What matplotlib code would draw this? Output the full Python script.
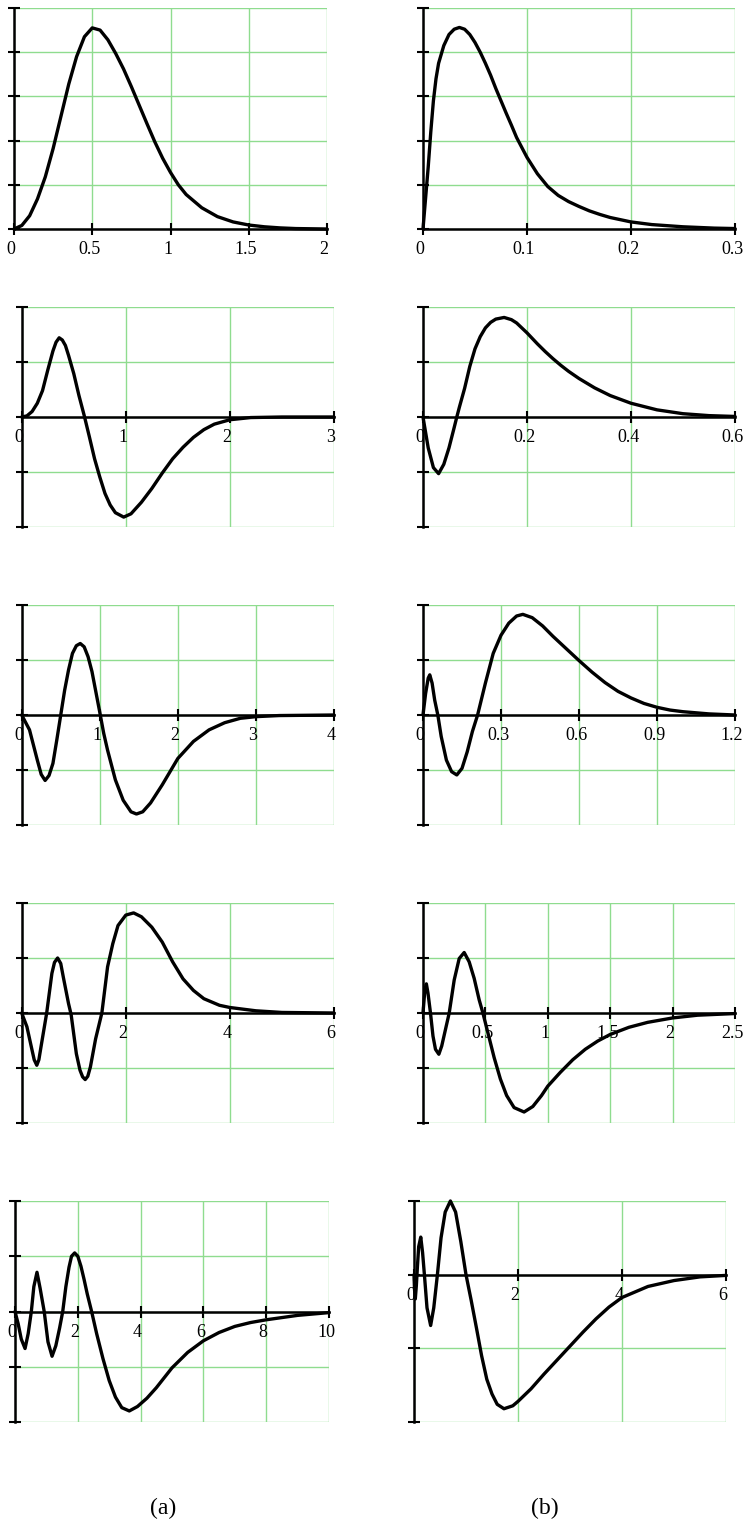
import matplotlib.pyplot as plt
from matplotlib.transforms import ScaledTranslation

plt.rcParams['font.family'] = ['Liberation Serif', 'DejaVu Serif']

# ---- curve readings, column (a) ----
a1_x = [0, 0.05, 0.1, 0.15, 0.2, 0.25, 0.3, 0.35, 0.4, 0.45, 0.5, 0.55, 0.6, 0.65, 0.7,
        0.75, 0.8, 0.85, 0.9, 0.95, 1.0, 1.05, 1.1, 1.2, 1.3, 1.4, 1.5, 1.6, 1.7, 1.8, 2.0]
a1_y = [0, 0.08, 0.3, 0.68, 1.18, 1.82, 2.55, 3.28, 3.9, 4.35, 4.55, 4.5, 4.28, 3.97, 3.62,
        3.22, 2.8, 2.38, 1.97, 1.6, 1.28, 1.0, 0.78, 0.48, 0.28, 0.16, 0.09, 0.05, 0.025, 0.01, 0]

a2_x = [0, 0.05, 0.1, 0.15, 0.2, 0.25, 0.3, 0.33, 0.36, 0.39, 0.42, 0.45, 0.5, 0.55, 0.6, 0.65, 0.7, 0.75,
        0.8, 0.85, 0.9, 0.98, 1.05, 1.15, 1.25, 1.35, 1.45, 1.55, 1.65, 1.75, 1.85, 2.0, 2.2, 2.5, 3.0]
a2_y = [0, 0.02, 0.1, 0.25, 0.48, 0.85, 1.2, 1.36, 1.44, 1.4, 1.3, 1.12, 0.79, 0.39, 0.03, -0.36, -0.76, -1.09,
        -1.39, -1.6, -1.74, -1.82, -1.76, -1.55, -1.3, -1.02, -0.76, -0.55, -0.37, -0.23, -0.13, -0.05, -0.01, 0, 0]

a3_x = [0, 0.1, 0.2, 0.25, 0.3, 0.35, 0.4, 0.45, 0.5, 0.55, 0.6, 0.65, 0.7, 0.75, 0.8, 0.85, 0.9,
        0.95, 1.0, 1.05, 1.1, 1.2, 1.3, 1.4, 1.47, 1.55, 1.65, 1.8, 2.0, 2.2, 2.4, 2.6, 2.8, 3.0, 3.3, 4.0]
a3_y = [0, -0.27, -0.82, -1.08, -1.19, -1.1, -0.88, -0.45, 0, 0.45, 0.82, 1.12, 1.26, 1.3, 1.24, 1.06, 0.79,
        0.42, 0.05, -0.33, -0.64, -1.18, -1.55, -1.76, -1.8, -1.76, -1.6, -1.27, -0.79, -0.48, -0.27, -0.14, -0.06, -0.03, -0.01, 0]

a4_x = [0, 0.1, 0.2, 0.24, 0.29, 0.33, 0.37, 0.48, 0.58, 0.63, 0.69, 0.75, 0.8, 0.9, 0.95, 1.05, 1.12,
        1.17, 1.22, 1.27, 1.32, 1.42, 1.54, 1.65, 1.75, 1.85, 2.0, 2.15, 2.3, 2.5, 2.7, 2.9, 3.1, 3.3,
        3.5, 3.8, 4.0, 4.5, 5.0, 6.0]
a4_y = [0, -0.25, -0.68, -0.85, -0.95, -0.85, -0.62, 0, 0.72, 0.92, 1.0, 0.9, 0.65, 0.17, -0.03, -0.74, -1.04,
        -1.16, -1.21, -1.15, -0.98, -0.47, 0, 0.84, 1.26, 1.59, 1.78, 1.82, 1.75, 1.56, 1.29, 0.93, 0.62, 0.41,
        0.26, 0.14, 0.1, 0.04, 0.01, 0]

a5_x = [0, 0.1, 0.2, 0.32, 0.42, 0.52, 0.6, 0.7, 0.8, 0.93, 1.05, 1.18, 1.3, 1.42, 1.52, 1.62, 1.72,
        1.8, 1.9, 2.0, 2.1, 2.2, 2.3, 2.44, 2.6, 2.8, 3.0, 3.2, 3.4, 3.64, 3.9, 4.2, 4.5, 4.75, 5.0, 5.5,
        6.0, 6.5, 7.0, 7.5, 8.0, 9.0, 10.0]
a5_y = [0, -0.22, -0.5, -0.67, -0.4, 0, 0.45, 0.71, 0.42, 0, -0.55, -0.81, -0.62, -0.3, 0, 0.45, 0.8,
        1.0, 1.06, 1.0, 0.82, 0.58, 0.32, 0, -0.4, -0.85, -1.25, -1.55, -1.74, -1.8, -1.72, -1.57, -1.38, -1.2, -1.02, -0.74,
        -0.53, -0.38, -0.27, -0.2, -0.15, -0.07, -0.02]

# ---- curve readings, column (b) ----
b1_x = [0, 0.0025, 0.005, 0.0075, 0.01, 0.0125, 0.015, 0.02, 0.025, 0.03, 0.035, 0.04, 0.045, 0.05,
        0.055, 0.06, 0.065, 0.07, 0.075, 0.08, 0.085, 0.09, 0.1, 0.11, 0.12, 0.13, 0.14, 0.15, 0.16,
        0.17, 0.18, 0.2, 0.22, 0.25, 0.28, 0.3]
b1_y = [0, 0.7, 1.4, 2.2, 2.9, 3.4, 3.75, 4.15, 4.4, 4.52, 4.56, 4.52, 4.4, 4.22,
        4.0, 3.75, 3.48, 3.18, 2.9, 2.62, 2.35, 2.07, 1.62, 1.25, 0.96, 0.76, 0.62, 0.51, 0.41,
        0.33, 0.26, 0.16, 0.1, 0.05, 0.02, 0.01]

b2_x = [0, 0.01, 0.02, 0.03, 0.04, 0.05, 0.06, 0.065, 0.07, 0.075, 0.08, 0.085, 0.09, 0.1, 0.11,
        0.12, 0.13, 0.14, 0.156, 0.17, 0.18, 0.19, 0.2, 0.21, 0.22, 0.235, 0.25, 0.265, 0.28, 0.3,
        0.33, 0.36, 0.4, 0.45, 0.5, 0.55, 0.6]
b2_y = [0, -0.56, -0.92, -1.03, -0.86, -0.56, -0.19, 0, 0.18, 0.35, 0.52, 0.72, 0.92, 1.24, 1.46,
        1.62, 1.72, 1.78, 1.81, 1.77, 1.71, 1.62, 1.53, 1.43, 1.33, 1.19, 1.06, 0.94, 0.83, 0.7,
        0.53, 0.39, 0.25, 0.13, 0.06, 0.025, 0.01]

b3_x = [0, 0.01, 0.02, 0.026, 0.035, 0.045, 0.057, 0.07, 0.09, 0.11, 0.13, 0.15, 0.17, 0.19, 0.21,
        0.24, 0.27, 0.3, 0.33, 0.36, 0.384, 0.42, 0.46, 0.5, 0.55, 0.6, 0.65, 0.7, 0.75, 0.8, 0.85, 0.9,
        0.95, 1.0, 1.1, 1.2]
b3_y = [0, 0.39, 0.67, 0.73, 0.58, 0.27, 0, -0.39, -0.82, -1.03, -1.09, -0.97, -0.67, -0.3, 0,
        0.58, 1.12, 1.45, 1.67, 1.8, 1.83, 1.77, 1.62, 1.43, 1.21, 0.99, 0.78, 0.59, 0.43, 0.31, 0.21, 0.14,
        0.09, 0.06, 0.02, 0]

b4_x = [0, 0.015, 0.027, 0.04, 0.06, 0.08, 0.1, 0.127, 0.15, 0.18, 0.21, 0.25, 0.29, 0.33, 0.37,
        0.41, 0.45, 0.48, 0.52, 0.57, 0.62, 0.67, 0.73, 0.81, 0.88, 0.95, 1.0, 1.1, 1.2, 1.3, 1.4,
        1.5, 1.65, 1.8, 2.0, 2.2, 2.5]
b4_y = [0, 0.42, 0.53, 0.36, 0, -0.42, -0.66, -0.75, -0.6, -0.3, 0, 0.6, 0.99, 1.1, 0.93,
        0.63, 0.24, 0, -0.36, -0.81, -1.2, -1.5, -1.72, -1.8, -1.7, -1.5, -1.33, -1.08, -0.85, -0.66, -0.51,
        -0.39, -0.26, -0.17, -0.09, -0.04, -0.01]

b5_x = [0, 0.01, 0.025, 0.045, 0.065, 0.09, 0.13, 0.165, 0.2, 0.25, 0.32, 0.38, 0.45, 0.52, 0.6,
        0.7, 0.8, 0.9, 1.0, 1.1, 1.2, 1.3, 1.4, 1.5, 1.6, 1.73, 1.9, 2.0, 2.25, 2.5, 2.75, 3.0, 3.25,
        3.5, 3.75, 4.0, 4.5, 5.0, 5.5, 6.0]
b5_y = [0, -0.2, -0.33, -0.15, 0.1, 0.38, 0.51, 0.3, 0, -0.45, -0.69, -0.45, 0, 0.5, 0.85,
        1.0, 0.85, 0.45, 0, -0.35, -0.72, -1.1, -1.42, -1.62, -1.76, -1.82, -1.78, -1.72, -1.55, -1.35, -1.16, -0.97, -0.78,
        -0.6, -0.44, -0.31, -0.16, -0.08, -0.03, -0.01]

# ---- axes ticks / labels ----
a_xticks = [[0, 0.5, 1, 1.5, 2], [0, 1, 2, 3], [0, 1, 2, 3, 4], [0, 2, 4, 6], [0, 2, 4, 6, 8, 10]]
a_xlabels = [['0', '0.5', '1', '1.5', '2'], ['0', '1', '2', '3'], ['0', '1', '2', '3', '4'],
             ['0', '2', '4', '6'], ['0', '2', '4', '6', '8', '10']]
b_xticks = [[0, 0.1, 0.2, 0.3], [0, 0.2, 0.4, 0.6], [0, 0.3, 0.6, 0.9, 1.2],
            [0, 0.5, 1, 1.5, 2, 2.5], [0, 2, 4, 6]]
b_xlabels = [['0', '0.1', '0.2', '0.3'], ['0', '0.2', '0.4', '0.6'], ['0', '0.3', '0.6', '0.9', '1.2'],
             ['0', '0.5', '1', '1.5', '2', '2.5'], ['0', '2', '4', '6']]
a_yticks = [[0, 1, 2, 3, 4, 5], [-2, -1, 0, 1, 2], [-2, -1, 0, 1, 2], [-2, -1, 0, 1, 2], [-2, -1, 0, 1, 2]]
b_yticks = [[0, 1, 2, 3, 4, 5], [-2, -1, 0, 1, 2], [-2, -1, 0, 1, 2], [-2, -1, 0, 1, 2], [-2, -1, 0, 1]]

a_data = [(a1_x, a1_y), (a2_x, a2_y), (a3_x, a3_y), (a4_x, a4_y), (a5_x, a5_y)]
b_data = [(b1_x, b1_y), (b2_x, b2_y), (b3_x, b3_y), (b4_x, b4_y), (b5_x, b5_y)]

# panel boxes in pixels: left, right, top, bottom
a_boxes = [(14, 327, 8, 229), (21.7, 334, 307, 527), (21.7, 334, 605, 825),
           (21.7, 334, 903, 1123), (15, 329, 1201, 1422)]
b_boxes = [(423, 735, 8, 229), (423, 735, 307, 527), (423, 735, 605, 825),
           (423, 735, 903, 1123), (414, 726, 1201, 1422)]

W, H = 756, 1528
GREEN = '#8fdc8f'
fig = plt.figure(figsize=(W / 100, H / 100), dpi=100)


def panel(box, data, xt, xl, yt):
    l, r, t, b = box
    ax = fig.add_axes([l / W, 1 - b / H, (r - l) / W, (b - t) / H])
    ax.set_xlim(xt[0], xt[-1])
    ax.set_ylim(yt[0], yt[-1])
    ax.set_xticks(xt)
    ax.set_xticklabels(xl, ha='left')
    ax.set_yticks(yt)
    ax.set_yticklabels([])
    ax.grid(True, color=GREEN, lw=1.0)
    for gl in ax.get_xgridlines() + ax.get_ygridlines():
        gl.set_clip_on(False)
    ax.set_axisbelow(True)
    for s in ['top', 'right']:
        ax.spines[s].set_visible(False)
    ax.spines['left'].set_position(('data', 0))
    ax.spines['bottom'].set_position(('data', 0))
    ax.spines['left'].set_linewidth(1.8)
    ax.spines['bottom'].set_linewidth(1.8)
    ax.tick_params(axis='y', direction='inout', length=8, width=1.5)
    ax.tick_params(axis='x', direction='inout', length=8, width=1.5, labelsize=13, pad=5)
    off = ScaledTranslation(-3 / 100, 0, fig.dpi_scale_trans)
    for lab in ax.get_xticklabels():
        lab.set_transform(lab.get_transform() + off)
    ax.plot(data[0], data[1], color='black', lw=2.4, solid_joinstyle='round',
            solid_capstyle='round', zorder=3, clip_on=False)
    ax.set_facecolor('white')
    return ax


for i in range(5):
    panel(a_boxes[i], a_data[i], a_xticks[i], a_xlabels[i], a_yticks[i])
    panel(b_boxes[i], b_data[i], b_xticks[i], b_xlabels[i], b_yticks[i])

fig.text(163 / W, 1 - 1508 / H, '(a)', ha='center', va='center', fontsize=17)
fig.text(545 / W, 1 - 1508 / H, '(b)', ha='center', va='center', fontsize=17)

fig.savefig('out.png', dpi=100, facecolor='white')
